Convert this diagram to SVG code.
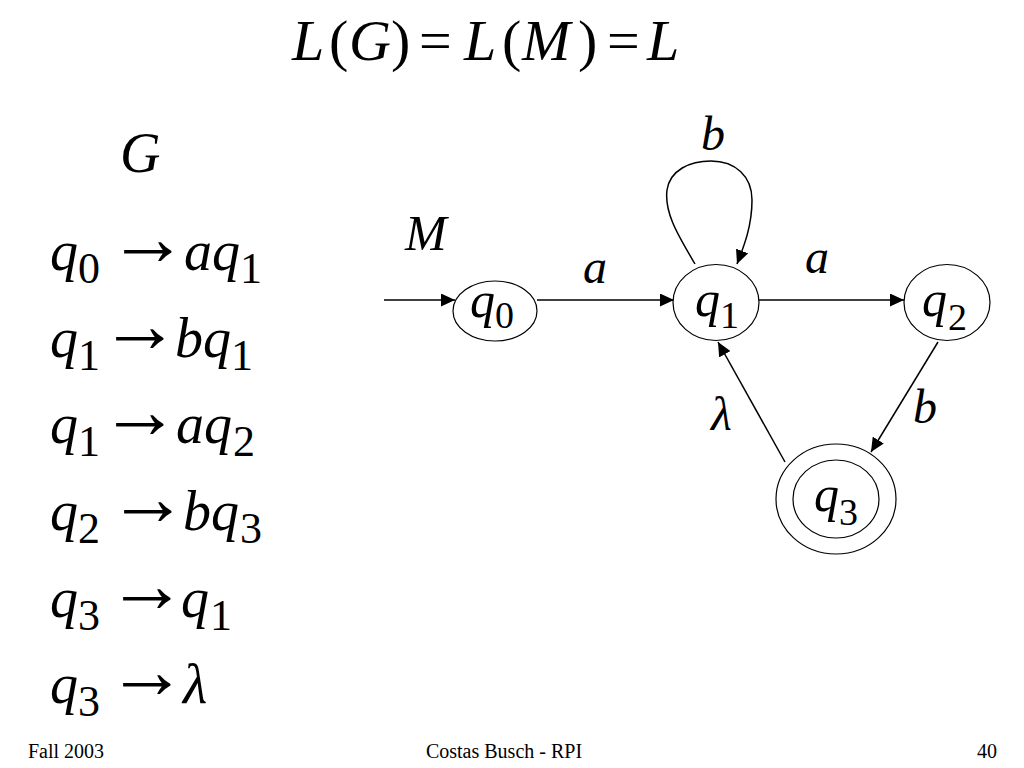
<svg xmlns="http://www.w3.org/2000/svg" width="1024" height="768" viewBox="0 0 1024 768">
<style>
text { font-family: "Liberation Serif", "Times New Roman", serif; fill: #000; }
.it { font-style: italic; }
.t { font-size: 58px; }
.g { font-size: 56px; }
.gs { font-size: 44px; }
.ar { font-size: 80px; font-style: normal; letter-spacing: -16px; }
.n { font-size: 50px; }
.ns { font-size: 38px; }
.e { font-size: 48px; font-style: italic; }
.f { font-size: 20px; }
.node { fill: #fff; stroke: #000; stroke-width: 1.2; }
.edge { fill: none; stroke: #000; stroke-width: 1.5; marker-end: url(#ah); }
</style>
<defs>
<marker id="ah" markerUnits="userSpaceOnUse" markerWidth="15" markerHeight="13" refX="14" refY="6.5" orient="auto">
<path d="M0,0 L14,6.5 L0,13 z" fill="#000"/>
</marker>
</defs>
<rect width="1024" height="768" fill="#fff"/>

<g id="title">
<text class="t" y="60"><tspan class="it" x="292">L</tspan><tspan x="329">(</tspan><tspan class="it" x="349">G</tspan><tspan x="391">)</tspan><tspan x="419">=</tspan><tspan class="it" x="464">L</tspan><tspan x="502">(</tspan><tspan class="it" x="522">M</tspan><tspan x="578">)</tspan><tspan x="607">=</tspan><tspan class="it" x="647">L</tspan></text>
</g>

<g id="grammar">
<text class="g it" x="120" y="172">G</text>
<text class="g"><tspan class="it" x="50" y="270">q</tspan><tspan class="gs" x="78" y="283">0</tspan><tspan class="ar" x="108" y="265">→</tspan><tspan class="it" x="184" y="270">a</tspan><tspan class="it" x="212" y="270">q</tspan><tspan class="gs" x="240" y="283">1</tspan></text>
<text class="g"><tspan class="it" x="50" y="357">q</tspan><tspan class="gs" x="78" y="370">1</tspan><tspan class="ar" x="100" y="352">→</tspan><tspan class="it" x="175" y="357">b</tspan><tspan class="it" x="203" y="357">q</tspan><tspan class="gs" x="231" y="370">1</tspan></text>
<text class="g"><tspan class="it" x="50" y="443">q</tspan><tspan class="gs" x="78" y="456">1</tspan><tspan class="ar" x="100" y="438">→</tspan><tspan class="it" x="176" y="443">a</tspan><tspan class="it" x="204" y="443">q</tspan><tspan class="gs" x="233" y="456">2</tspan></text>
<text class="g"><tspan class="it" x="50" y="530">q</tspan><tspan class="gs" x="78" y="543">2</tspan><tspan class="ar" x="108" y="525">→</tspan><tspan class="it" x="183" y="530">b</tspan><tspan class="it" x="211" y="530">q</tspan><tspan class="gs" x="240" y="543">3</tspan></text>
<text class="g"><tspan class="it" x="50" y="617">q</tspan><tspan class="gs" x="78" y="630">3</tspan><tspan class="ar" x="107" y="612">→</tspan><tspan class="it" x="181" y="617">q</tspan><tspan class="gs" x="210" y="630">1</tspan></text>
<text class="g"><tspan class="it" x="50" y="703">q</tspan><tspan class="gs" x="78" y="716">3</tspan><tspan class="ar" x="107" y="698">→</tspan><tspan class="it" x="183" y="703">λ</tspan></text>
</g>

<text class="g it" x="405" y="250" style="font-size:50px">M</text>

<g id="connectors">
<line class="edge" x1="384" y1="300" x2="455" y2="300"/>
<line class="edge" x1="537" y1="300" x2="674" y2="300"/>
<line class="edge" x1="759" y1="300" x2="904" y2="300"/>
<line class="edge" x1="938" y1="342" x2="871" y2="452"/>
<line class="edge" x1="785" y1="462" x2="718" y2="342"/>
<path class="edge" d="M695,264 C680,238 664,214 667,190 C670,170 690,161 711,161 C735,161 752,176 752,200 C752,226 744,246 737,264"/>
<text class="e" x="583" y="283">a</text>
<text class="e" x="805" y="273">a</text>
<text class="e" x="701" y="150">b</text>
<text class="e" x="913" y="423">b</text>
<text class="e" x="711" y="430">λ</text>
</g>

<g id="q0">
<ellipse class="node" cx="495" cy="311" rx="42" ry="30"/>
<text class="n"><tspan class="it" x="470" y="317">q</tspan><tspan class="ns" x="495" y="328">0</tspan></text>
</g>
<g id="q1">
<ellipse class="node" cx="716" cy="302.5" rx="43" ry="38"/>
<text class="n"><tspan class="it" x="695" y="316">q</tspan><tspan class="ns" x="720" y="328">1</tspan></text>
</g>
<g id="q2">
<ellipse class="node" cx="947" cy="302.5" rx="43" ry="38"/>
<text class="n"><tspan class="it" x="922" y="316">q</tspan><tspan class="ns" x="948" y="330">2</tspan></text>
</g>
<g id="q3">
<ellipse class="node" cx="836" cy="499" rx="60" ry="55"/>
<ellipse class="node" cx="836" cy="499" rx="43" ry="39"/>
<text class="n"><tspan class="it" x="814" y="511">q</tspan><tspan class="ns" x="839" y="525">3</tspan></text>
</g>

<g id="footer">
<text class="f" x="28" y="758">Fall 2003</text>
<text class="f" x="504" y="758" text-anchor="middle">Costas Busch - RPI</text>
<text class="f" x="997" y="758" text-anchor="end">40</text>
</g>
</svg>
